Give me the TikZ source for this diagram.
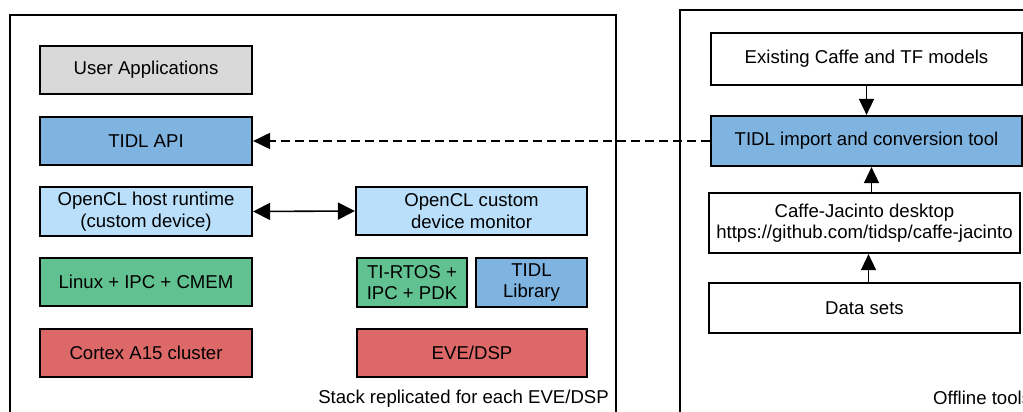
\documentclass[tikz,border=0pt]{standalone}
\usepackage{fontspec}
\setmainfont{Liberation Sans}
\usetikzlibrary{arrows.meta}
\definecolor{cgray}{HTML}{D9D9D9}
\definecolor{cblue}{HTML}{7FB3E0}
\definecolor{clight}{HTML}{B9DFFB}
\definecolor{cgreen}{HTML}{62C190}
\definecolor{cred}{HTML}{DC6868}
\tikzset{
  box/.style={draw=black, line width=2.2pt, inner sep=0pt, align=center,
    font=\fontsize{18.6}{21.5}\selectfont},
  cont/.style={draw=black, line width=2pt},
  arr/.style={line width=1.6pt, -{Triangle[length=16pt,width=15pt]}},
  darr/.style={line width=1.6pt, {Triangle[length=17pt,width=17pt]}-{Triangle[length=17pt,width=17pt]}},
  dasharr/.style={line width=2pt, dash pattern=on 9pt off 5pt, -{Triangle[length=17pt,width=16pt]}},
  lbl/.style={inner sep=0pt, font=\fontsize{18.6}{21.5}\selectfont}
}
\begin{document}
\begin{tikzpicture}[x=1pt,y=-1pt]
\clip (0,0) rectangle (1023,412);
\fill[white] (0,0) rectangle (1023,412);
% containers
\draw[cont] (10,430) -- (10,15) -- (616,15) -- (616,430);
\draw[cont] (680,430) -- (680,10) -- (1040,10);
% left column
\node[box, fill=cgray,  minimum width=212pt, minimum height=48pt] (ua)     at (146,70)    {User Applications};
\node[box, fill=cblue,  minimum width=212pt, minimum height=48pt] (api)    at (146,141)   {TIDL API};
\node[box, fill=clight, minimum width=212pt, minimum height=49pt] (host)   at (146,211.5) {OpenCL host runtime\\(custom device)};
\node[box, fill=cgreen, minimum width=212pt, minimum height=48pt] (linux)  at (146,282)   {Linux + IPC + CMEM};
\node[box, fill=cred,   minimum width=212pt, minimum height=48pt] (cortex) at (146,353)   {Cortex A15 cluster};
% device stack
\node[box, fill=clight, minimum width=231pt, minimum height=48pt] (mon)    at (471.5,211) {OpenCL custom\\device monitor};
\node[box, fill=cgreen, minimum width=110pt, minimum height=49pt] (rtos)   at (412,282.5) {TI-RTOS +\\IPC + PDK};
\node[box, fill=cblue,  minimum width=111pt, minimum height=49pt] (lib)    at (531.5,282.5) {TIDL\\Library};
\node[box, fill=cred,   minimum width=230pt, minimum height=48pt] (eve)    at (472,353)   {EVE/DSP};
\node[lbl, anchor=base east] (stk) at (609,403) {Stack replicated for each EVE/DSP};
% offline tools
\node[box, fill=white, minimum width=311pt, minimum height=52pt] (exist) at (866.5,59)  {Existing Caffe and TF models};
\node[box, fill=cblue, minimum width=311pt, minimum height=50pt] (tool)  at (866.5,141) {TIDL import and conversion tool};
\node[box, fill=white, minimum width=311pt, minimum height=60pt] (caffe) at (864.5,223) {Caffe-Jacinto desktop\\https://github.com/tidsp/caffe-jacinto};
\node[box, fill=white, minimum width=311pt, minimum height=50pt] (data)  at (864.5,308) {Data sets};
\node[lbl, anchor=base west] (off) at (933,404) {Offline tools};
% connectors
\draw[arr] (exist.south) -- (tool.north);
\draw[arr] ([xshift=7pt]caffe.north) -- ([xshift=5pt]tool.south);
\draw[arr] ([xshift=4pt]data.north) -- ([xshift=4pt]caffe.south);
\draw[dasharr] (tool.west) -- (api.east);
\draw[darr] (host.east) -- (mon.west);
\end{tikzpicture}
\end{document}
